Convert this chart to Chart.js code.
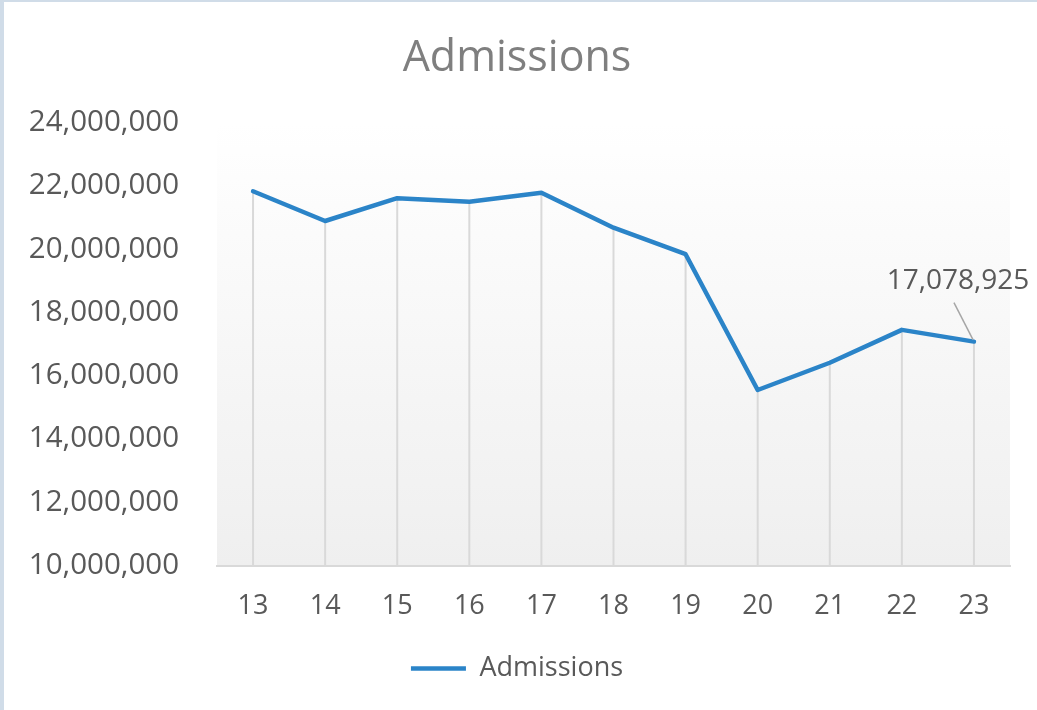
<!DOCTYPE html>
<html>
<head>
<meta charset="utf-8">
<script src="https://cdn.jsdelivr.net/npm/chart.js@4"></script>
<style>
  html, body { margin: 0; padding: 0; background: #fff; }
  #wrap {
    width: 1033px; height: 708px;
    border-left: 4px solid #d0dce8;
    border-top: 2px solid #d0dce8;
    position: relative;
  }
</style>
</head>
<body>
<div id="wrap"><canvas id="chart" width="1033" height="708"></canvas></div>
<script>
// data
const years = ['13', '14', '15', '16', '17', '18', '19', '20', '21', '22', '23'];
const admissions = [21830000, 20890000, 21610000, 21500000, 21780000, 20680000, 19840000, 15550000, 16410000, 17450000, 17078925];
const yTicks = [10000000, 12000000, 14000000, 16000000, 18000000, 20000000, 22000000, 24000000];

const FONT = "'Open Sans', sans-serif";
const lineBlue = '#2b84c8';

// soft grey fade behind the plot
const plotFill = {
  id: 'plotFill',
  beforeDraw(chart) {
    const { ctx, chartArea: a } = chart;
    const g = ctx.createLinearGradient(0, a.top, 0, a.bottom);
    g.addColorStop(0, '#ffffff');
    g.addColorStop(1, '#efefef');
    ctx.save();
    ctx.fillStyle = g;
    ctx.fillRect(a.left, a.top, a.right - a.left, a.bottom - a.top);
    ctx.restore();
  }
};

// drop lines from each point to the axis
const dropLines = {
  id: 'dropLines',
  beforeDatasetsDraw(chart) {
    const { ctx, chartArea: a } = chart;
    const pts = chart.getDatasetMeta(0).data;
    ctx.save();
    ctx.strokeStyle = '#d9d9d9';
    ctx.lineWidth = 2;
    pts.forEach(p => {
      ctx.beginPath();
      ctx.moveTo(p.x, p.y);
      ctx.lineTo(p.x, a.bottom);
      ctx.stroke();
    });
    ctx.restore();
  }
};

// value callout on the last point
const lastLabel = {
  id: 'lastLabel',
  afterDatasetsDraw(chart) {
    const { ctx } = chart;
    const pts = chart.getDatasetMeta(0).data;
    const i = pts.length - 1;
    const p = pts[i];
    ctx.save();
    ctx.strokeStyle = '#a6a6a6';
    ctx.lineWidth = 1.5;
    ctx.beginPath();
    ctx.moveTo(p.x - 20, p.y - 39);
    ctx.lineTo(p.x - 1, p.y - 2);
    ctx.stroke();
    ctx.fillStyle = '#595959';
    ctx.font = '28px ' + FONT;
    ctx.textAlign = 'center';
    ctx.textBaseline = 'middle';
    ctx.fillText(admissions[i].toLocaleString('en-US'), p.x - 16, p.y - 61);
    ctx.restore();
  }
};

new Chart(document.getElementById('chart'), {
  type: 'line',
  data: {
    labels: years,
    datasets: [{
      label: 'Admissions',
      data: admissions,
      borderColor: lineBlue,
      backgroundColor: lineBlue,
      borderWidth: 4.5,
      borderCapStyle: 'round',
      borderJoinStyle: 'round',
      pointRadius: 0,
      tension: 0
    }]
  },
  options: {
    responsive: false,
    animation: false,
    layout: { padding: { left: 20, right: 27, top: 0, bottom: 18 } },
    plugins: {
      title: {
        display: true,
        text: 'Admissions',
        color: '#7f7f7f',
        font: { family: FONT, size: 43, weight: 'normal' },
        padding: { top: 31, bottom: 38 }
      },
      legend: {
        position: 'bottom',
        labels: {
          color: '#595959',
          font: { family: FONT, size: 27 },
          usePointStyle: true,
          pointStyle: 'line',
          pointStyleWidth: 55,
          padding: 7
        }
      },
      tooltip: { enabled: false }
    },
    scales: {
      x: {
        offset: true,
        grid: { display: true, drawOnChartArea: false, drawTicks: false },
        border: { display: true, color: '#d9d9d9', width: 2 },
        ticks: { color: '#595959', font: { family: FONT, size: 27 }, padding: 25 }
      },
      y: {
        min: 10000000,
        max: 24000000,
        afterBuildTicks(scale) { scale.ticks = yTicks.map(v => ({ value: v })); },
        afterFit(scale) { scale.width = 193; },
        grid: { display: false },
        border: { display: false },
        ticks: {
          color: '#595959',
          font: { family: FONT, size: 29.5 },
          padding: 30,
          callback: v => Number(v).toLocaleString('en-US')
        }
      }
    }
  },
  plugins: [plotFill, dropLines, lastLabel]
});
</script>
</body>
</html>
